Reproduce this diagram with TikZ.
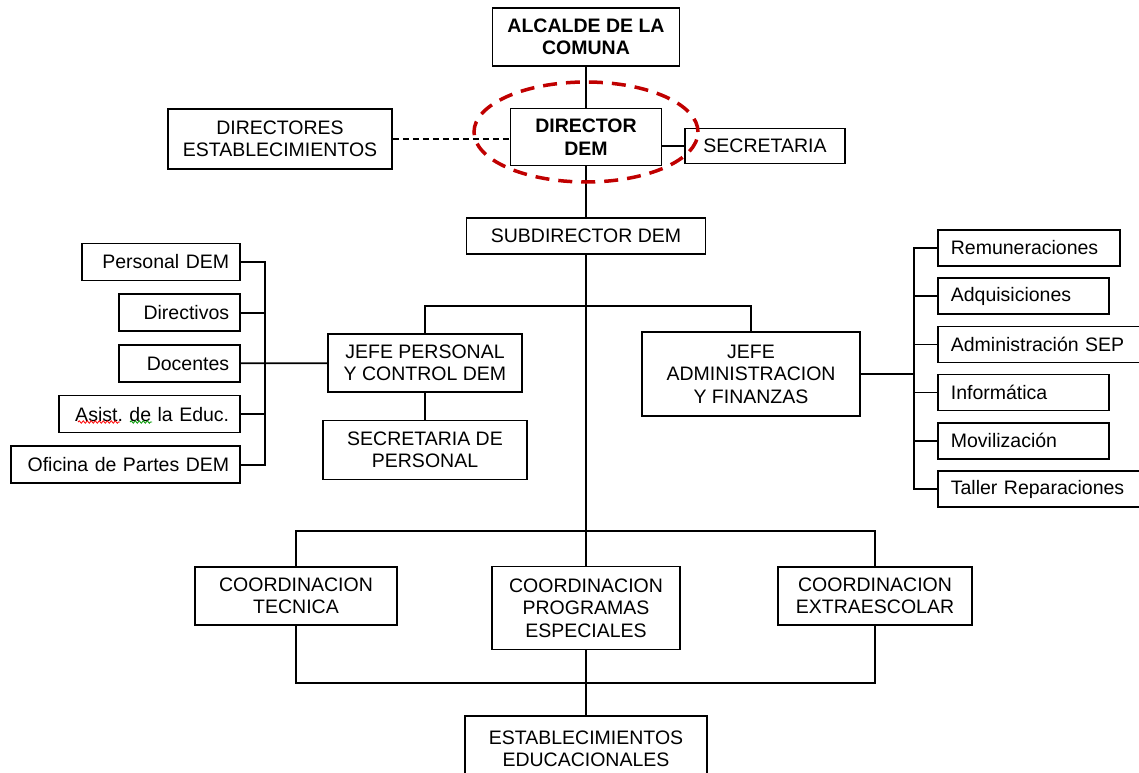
\documentclass[tikz,border=0pt]{standalone}
\usepackage{fontspec}
\setmainfont{Liberation Sans}
\usetikzlibrary{positioning, decorations.pathmorphing}
\newcommand{\orgfont}{\fontsize{19.5pt}{22.5pt}\selectfont\frenchspacing}
\definecolor{focusred}{RGB}{192,0,0}
\tikzstyle{unit} = [rectangle, draw=black, line width=1.7, text centered, align=center, font=\orgfont]
\tikzstyle{head} = [unit, font=\orgfont\bfseries]
\tikzstyle{leftitem} = [rectangle, draw=black, line width=1.7, minimum height=37pt, inner xsep=11pt, align=right, font=\orgfont]
\tikzstyle{rightitem} = [rectangle, draw=black, line width=1.7, minimum height=36pt, inner xsep=13pt, align=left, font=\orgfont]
\tikzstyle{link} = [draw=black, line width=1.7]
\tikzstyle{dashlink} = [link, dash pattern=on 6pt off 4pt]
\tikzstyle{focus} = [draw=focusred, line width=3.5, dash pattern=on 14pt off 9pt]
\tikzstyle{squiggle} = [line width=0.8, decorate, decoration={snake, amplitude=1.2pt, segment length=4pt}]

\begin{document}
\begin{tikzpicture}[x=1pt, y=-1pt]
\useasboundingbox (0,0) rectangle (1139,772);
\clip (0,0) rectangle (1139,772);

% top
\node (alcalde) [head, minimum width=187, minimum height=58] at (586,37) {ALCALDE DE LA\\COMUNA};
\node (director) [head, minimum width=151, minimum height=57] at (586,137) {DIRECTOR\\DEM};
\node (directores) [unit, minimum width=224, minimum height=60] at (280,139) {DIRECTORES\\ESTABLECIMIENTOS};
\node (secretaria) [unit, minimum width=160, minimum height=35] at (765,146) {SECRETARIA};
\node (subdirector) [unit, minimum width=239, minimum height=36] at (586,236) {SUBDIRECTOR DEM};

% jefaturas
\node (jefePersonal) [unit, minimum width=194, minimum height=58] at (425,363) {JEFE PERSONAL\\Y CONTROL DEM};
\node (secPersonal) [unit, minimum width=204, minimum height=59] at (425,450) {SECRETARIA DE\\PERSONAL};
\node (jefeAdmin) [unit, minimum width=218, minimum height=84] at (751,374) {JEFE\\ADMINISTRACION\\Y FINANZAS};

% personal
\node (personalDem) [leftitem, text width=136pt, anchor=east] at (241,262) {Personal DEM};
\node (directivos) [leftitem, text width=99pt, below=12pt of personalDem.south east, anchor=north east] {Directivos};
\node (docentes) [leftitem, text width=99pt, below=12pt of directivos.south east, anchor=north east] {Docentes};
\node (asistentes) [leftitem, text width=159pt, below=12pt of docentes.south east, anchor=north east] {Asist. de la Educ.};
\node (oficinaPartes) [leftitem, text width=207pt, below=12pt of asistentes.south east, anchor=north east] {Oficina de Partes DEM};

% administracion
\node (remuneraciones) [rightitem, text width=156pt, anchor=west] at (937,248) {Remuneraciones};
\node (adquisiciones) [rightitem, text width=145pt, below=10.5pt of remuneraciones.south west, anchor=north west] {Adquisiciones};
\node (adminSep) [rightitem, text width=189pt, below=10.5pt of adquisiciones.south west, anchor=north west] {Administración SEP};
\node (informatica) [rightitem, text width=145pt, below=10.5pt of adminSep.south west, anchor=north west] {Informática};
\node (movilizacion) [rightitem, text width=145pt, below=10.5pt of informatica.south west, anchor=north west] {Movilización};
\node (taller) [rightitem, text width=189pt, below=10.5pt of movilizacion.south west, anchor=north west] {Taller Reparaciones};

% coordinaciones
\node (coordTecnica) [unit, minimum width=202, minimum height=58] at (296,596) {COORDINACION\\TECNICA};
\node (coordProgramas) [unit, minimum width=188, minimum height=83] at (586,608) {COORDINACION\\PROGRAMAS\\ESPECIALES};
\node (coordExtra) [unit, minimum width=194, minimum height=58] at (875,596) {COORDINACION\\EXTRAESCOLAR};
\node (establecimientos) [unit, minimum width=242, minimum height=66] at (586,749) {ESTABLECIMIENTOS\\EDUCACIONALES};

\coordinate (busTop) at (586,306);
\coordinate (busMid) at (586,531);
\coordinate (busLow) at (586,683);
\coordinate (leftBar) at (265,0);
\coordinate (rightBar) at (914,0);

\draw [link] (alcalde) -- (director);
\draw [dashlink] (directores.east) -- (directores.east -| director.west);
\draw [link] (secretaria.west) -- (secretaria.west -| director.east);
\draw [link] (director) -- (subdirector);
\draw [link] (subdirector) -- (coordProgramas);
\draw [link] (jefePersonal.north) |- (busTop) -| (jefeAdmin.north);
\draw [link] (jefePersonal) -- (secPersonal);
\draw [link] (coordTecnica.north) |- (busMid) -| (coordExtra.north);
\draw [link] (coordTecnica.south) |- (busLow) -| (coordExtra.south);
\draw [link] (coordProgramas) -- (establecimientos);

% llaves
\draw [link] (personalDem.east) -| (leftBar |- oficinaPartes.east) -- (oficinaPartes.east);
\draw [link] (directivos.east) -- (directivos.east -| leftBar);
\draw [link] (asistentes.east) -- (asistentes.east -| leftBar);
\draw [link] (docentes) -- (jefePersonal);
\draw [link] (remuneraciones.west) -| (rightBar |- taller.west) -- (taller.west);
\draw [link] (adquisiciones.west) -- (adquisiciones.west -| rightBar);
\draw [link] (adminSep.west) -- (adminSep.west -| rightBar);
\draw [link] (informatica.west) -- (informatica.west -| rightBar);
\draw [link] (movilizacion.west) -- (movilizacion.west -| rightBar);
\draw [link] (jefeAdmin.east) -- (jefeAdmin.east -| rightBar);

\draw [focus] ([yshift=5pt]director.center) ellipse [x radius=112pt, y radius=50pt];
\draw [squiggle, draw=red] (78,422) -- (120,422);
\draw [squiggle, draw=green!60!black] (130,422) -- (152,422);
\end{tikzpicture}
\end{document}
